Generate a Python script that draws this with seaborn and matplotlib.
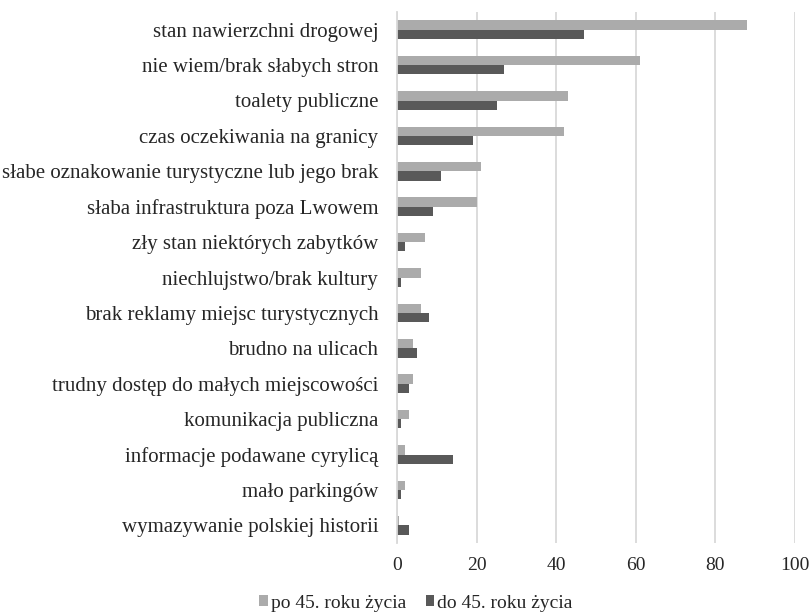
import matplotlib
matplotlib.use("Agg")
import matplotlib.pyplot as plt
import seaborn as sns
import pandas as pd
from matplotlib.patches import Patch

categories = [
    "stan nawierzchni drogowej",
    "nie wiem/brak słabych stron",
    "toalety publiczne",
    "czas oczekiwania na granicy",
    "słabe oznakowanie turystyczne lub jego brak",
    "słaba infrastruktura poza Lwowem",
    "zły stan niektórych zabytków",
    "niechlujstwo/brak kultury",
    "brak reklamy miejsc turystycznych",
    "brudno na ulicach",
    "trudny dostęp do małych miejscowości",
    "komunikacja publiczna",
    "informacje podawane cyrylicą",
    "mało parkingów",
    "wymazywanie polskiej historii",
]
po45 = [88, 61, 43, 42, 21, 20, 7, 6, 6, 4, 4, 3, 2, 2, 0.6]
do45 = [47, 27, 25, 19, 11, 9, 2, 1, 8, 5, 3, 1, 14, 1, 3]
series_names = ["po 45. roku życia", "do 45. roku życia"]
xticks = [0, 20, 40, 60, 80, 100]

colors = {series_names[0]: "#ababab", series_names[1]: "#595959"}

df = pd.DataFrame({
    "kategoria": categories * 2,
    "wartosc": po45 + do45,
    "grupa": [series_names[0]] * len(categories) + [series_names[1]] * len(categories),
})

sns.set_theme(style="white")
plt.rcParams["font.family"] = ["Liberation Serif", "DejaVu Serif"]

fig = plt.figure(figsize=(8.1, 6.13), dpi=100)
ax = fig.add_axes([397 / 810, 1 - 543 / 613, (795 - 397) / 810, (543 - 12) / 613])

sns.barplot(
    data=df, y="kategoria", x="wartosc", hue="grupa",
    order=categories, hue_order=series_names, palette=colors,
    orient="h", width=0.52, gap=0, ax=ax, legend=False,
    edgecolor="none", linewidth=0,
)

ax.set_xlim(0, 100)
ax.set_ylim(len(categories) - 0.5, -0.5)
ax.set_xticks(xticks)
ax.set_xticklabels([str(t) for t in xticks])
ax.set_xlabel("")
ax.set_ylabel("")
ax.xaxis.grid(True, color="#d9d9d9", linewidth=1.3)
ax.yaxis.grid(False)
ax.set_axisbelow(True)
for s in ["top", "right", "bottom"]:
    ax.spines[s].set_visible(False)
ax.spines["left"].set_color("#d9d9d9")
ax.spines["left"].set_linewidth(1.3)
ax.tick_params(axis="y", length=0, pad=13.5, labelsize=15, labelcolor="#262626")
ax.tick_params(axis="x", length=0, pad=10, labelsize=14, labelcolor="#262626")

handles = [Patch(facecolor=colors[n], edgecolor="none") for n in series_names]
fig.legend(
    handles, series_names, loc="center", bbox_to_anchor=(416 / 810, 1 - 603 / 613),
    ncol=2, frameon=False, fontsize=14, handlelength=0.45, handleheight=0.45,
    handletextpad=0.15, columnspacing=1.0, labelcolor="#262626",
)

fig.savefig("out.png", dpi=100)
